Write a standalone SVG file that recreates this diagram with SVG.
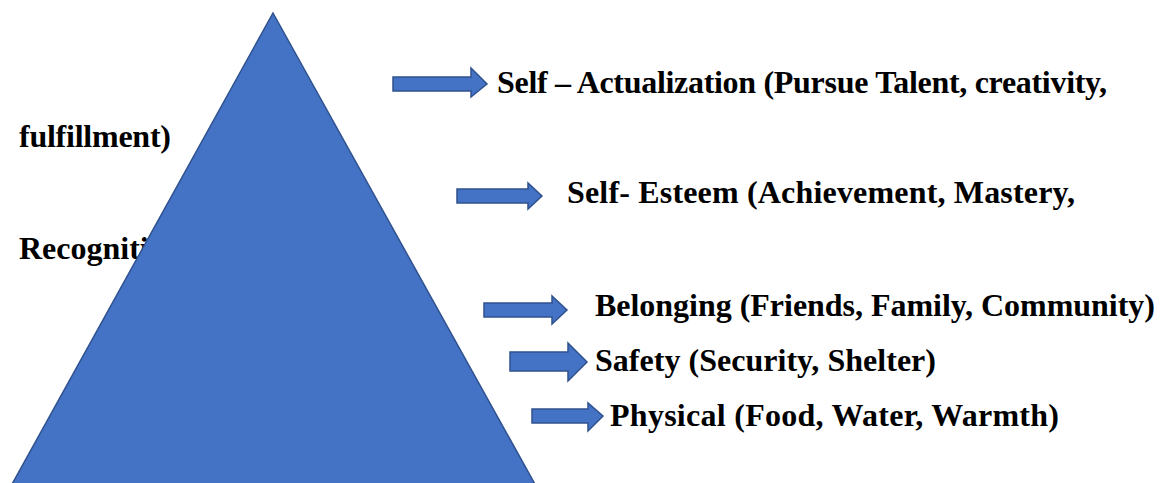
<svg xmlns="http://www.w3.org/2000/svg" width="1167" height="483" viewBox="0 0 1167 483">
  <defs>
    <style>
      .shape { fill: #4472C4; stroke: #2F528F; stroke-width: 1.5; }
      .lbl { font-weight: bold; font-size: 32px; fill: #000000; }
    </style>
  </defs>
  <rect width="1167" height="483" fill="#ffffff"/>

  <!-- wrapped text lines sitting behind the pyramid -->
  <g id="wrap-lines">
    <text class="lbl" font-family="Liberation Serif" x="19" y="147" textLength="152" lengthAdjust="spacing">fulfillment)</text>
    <text class="lbl" font-family="Liberation Serif" x="19" y="259">Recognition)</text>
  </g>

  <!-- pyramid -->
  <g id="pyramid">
    <polygon class="shape" points="273,13 536,486 11,486"/>
  </g>

  <!-- level arrows -->
  <g id="connectors">
    <polygon class="shape" points="393,77 471,77 471,68 487,84 471,97 471,91 393,91"/>
    <polygon class="shape" points="457,189 528,189 528,183 542,196 528,209 528,203 457,203"/>
    <polygon class="shape" points="484,303 552,303 552,296 567,310 552,324 552,317 484,317"/>
    <polygon class="shape" points="510,352 568,352 568,343 587,362 568,381 568,371 510,371"/>
    <polygon class="shape" points="532,409 588,409 588,403 603,416 588,431 588,423 532,423"/>
  </g>

  <!-- level labels -->
  <g id="level-self-actualization">
    <text class="lbl" font-family="Liberation Serif" x="497" y="93" textLength="610" lengthAdjust="spacing">Self – Actualization (Pursue Talent, creativity,</text>
  </g>
  <g id="level-self-esteem">
    <text class="lbl" font-family="Liberation Serif" x="567" y="203" textLength="508" lengthAdjust="spacing">Self- Esteem (Achievement, Mastery,</text>
  </g>
  <g id="level-belonging">
    <text class="lbl" font-family="Liberation Serif" x="595" y="316" textLength="560" lengthAdjust="spacing">Belonging (Friends, Family, Community)</text>
  </g>
  <g id="level-safety">
    <text class="lbl" font-family="Liberation Serif" x="595" y="371" textLength="341" lengthAdjust="spacing">Safety (Security, Shelter)</text>
  </g>
  <g id="level-physical">
    <text class="lbl" font-family="Liberation Serif" x="610" y="426" textLength="449" lengthAdjust="spacing">Physical (Food, Water, Warmth)</text>
  </g>
</svg>
